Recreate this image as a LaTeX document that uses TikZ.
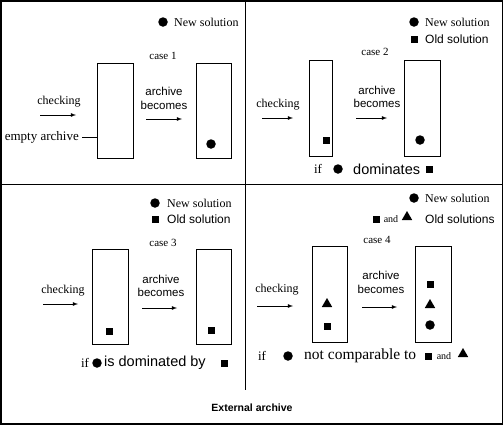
\documentclass[tikz,border=0pt]{standalone}
\usepackage{fontspec}
\setmainfont{Liberation Serif}
\setsansfont{Liberation Sans}
\usetikzlibrary{shapes.geometric,arrows,positioning}

\begin{document}
\begin{tikzpicture}[
            x=1pt, y=-1pt,
            archive/.style={rectangle, draw, line width=0.8pt,
                            minimum width=36pt, minimum height=95pt, inner sep=0},
            dot/.style={circle, fill, inner sep=0, minimum size=9.5pt},
            sq/.style={rectangle, fill, inner sep=0, minimum size=7pt},
            tri/.style={regular polygon, regular polygon sides=3, fill,
                        inner sep=0, minimum size=12pt, yshift=1pt},
            serif/.style={inner sep=0, font=\fontsize{12}{13}\selectfont},
            sans/.style={inner sep=0, font=\sffamily\fontsize{12}{13}\selectfont},
            casetxt/.style={inner sep=0, font=\fontsize{11}{12}\selectfont},
            becomes/.style={inner sep=0, align=center,
                            font=\sffamily\fontsize{11.5}{13.5}\selectfont},
            small/.style={inner sep=0, font=\fontsize{10}{11}\selectfont},
            arrow/.style={-latex, line width=0.8pt}
        ]
            \useasboundingbox (0,0) rectangle (504,426);
            \draw[line width=1.2pt] (1,1) rectangle (502.5,424);
            \draw[line width=0.8pt] (245,1) coordinate (vtop) -- (245,390) coordinate (vbot);
            \draw[line width=0.8pt] (1,184) coordinate (hleft) -- (502.5,184) coordinate (hright);

            % case 1
            \node[dot] (new1) at (163,22) {};
            \node[serif, anchor=west] (newtxt1) at (174,22) {New solution};
            \node[casetxt] (case1) at (163,56) {case 1};
            \node[archive] (a1) at (115,110.5) {};
            \node[archive, minimum width=35pt] (b1) at (213.5,110.5) {};
            \node[serif] (check1) at (59,102) {checking};
            \coordinate (c1s) at (40,115);
            \coordinate (c1e) at (76,115);
            \draw[arrow] (c1s) -- (c1e);
            \node[becomes] (bec1) at (164,98.5) {archive\\becomes};
            \coordinate (b1s) at (146,119);
            \coordinate (b1e) at (182,119);
            \draw[arrow] (b1s) -- (b1e);
            \node[serif, anchor=east, font=\fontsize{13}{14}\selectfont] (empty) at (79,137) {empty archive};
            \draw[line width=0.8pt] ([xshift=3pt]empty.east) -- (a1.west |- empty.east);
            \node[dot] (d1) at (211,144) {};

            % case 2
            \node[dot] (new2) at (414,22) {};
            \node[serif, anchor=west] (newtxt2) at (425,22) {New solution};
            \node[sq] (old2) at (414,39) {};
            \node[sans, anchor=west] (oldtxt2) at (425,39) {Old solution};
            \node[casetxt] (case2) at (375,52) {case 2};
            \node[archive, minimum width=23pt, minimum height=96pt] (a2) at (320.5,108) {};
            \node[archive, minimum height=96pt] (b2) at (422,108) {};
            \node[serif] (check2) at (278,105) {checking};
            \coordinate (c2s) at (262,118);
            \coordinate (c2e) at (293,118);
            \draw[arrow] (c2s) -- (c2e);
            \node[becomes] (bec2) at (377,97) {archive\\becomes};
            \coordinate (b2s) at (356,118);
            \coordinate (b2e) at (387,118);
            \draw[arrow] (b2s) -- (b2e);
            \node[sq] (s2) at (326,140) {};
            \node[dot] (d2) at (420,140) {};
            \node[serif, font=\fontsize{13}{14}\selectfont] (if2) at (318,169) {if};
            \node[dot] (ifd2) at (338,169) {};
            \node[sans, anchor=west, font=\sffamily\fontsize{14.5}{15}\selectfont] (dom2) at (353,169) {dominates};
            \node[sq] (ifs2) at (429,169) {};

            % case 3
            \node[dot] (new3) at (155,203) {};
            \node[serif, anchor=west] (newtxt3) at (167,203) {New solution};
            \node[sq] (old3) at (155,219) {};
            \node[sans, anchor=west] (oldtxt3) at (167,219) {Old solution};
            \node[casetxt] (case3) at (163,243) {case 3};
            \node[archive] (a3) at (110,296.5) {};
            \node[archive, minimum width=35pt] (b3) at (213.5,296.5) {};
            \node[serif] (check3) at (63,291) {checking};
            \coordinate (c3s) at (43,304);
            \coordinate (c3e) at (78,304);
            \draw[arrow] (c3s) -- (c3e);
            \node[becomes] (bec3) at (161,286) {archive\\becomes};
            \coordinate (b3s) at (142,308);
            \coordinate (b3e) at (177,308);
            \draw[arrow] (b3s) -- (b3e);
            \node[sq] (s3a) at (109,331) {};
            \node[sq] (s3b) at (211,330) {};
            \node[serif, font=\fontsize{13}{14}\selectfont] (if3) at (85,363) {if};
            \node[dot] (ifd3) at (97,363) {};
            \node[sans, anchor=west, font=\sffamily\fontsize{14.5}{15}\selectfont] (dom3) at (104,363) {is dominated by};
            \node[sq] (ifs3) at (224,363) {};

            % case 4
            \node[dot] (new4) at (414,198) {};
            \node[serif, anchor=west] (newtxt4) at (425,198) {New solution};
            \node[sq] (old4a) at (376,219) {};
            \node[small] (and4) at (391,219) {and};
            \node[tri] (old4b) at (407,218) {};
            \node[sans, anchor=west] (oldtxt4) at (425,219) {Old solutions};
            \node[casetxt] (case4) at (377,240) {case 4};
            \node[archive, minimum width=35pt, minimum height=96pt] (a4) at (329.5,294) {};
            \node[archive, minimum height=96pt] (b4) at (433,294) {};
            \node[serif] (check4) at (277,290) {checking};
            \coordinate (c4s) at (257,306);
            \coordinate (c4e) at (293,306);
            \draw[arrow] (c4s) -- (c4e);
            \node[becomes] (bec4) at (381,282.5) {archive\\becomes};
            \coordinate (b4s) at (362,307);
            \coordinate (b4e) at (397,307);
            \draw[arrow] (b4s) -- (b4e);
            \node[tri] (t4a) at (327,305) {};
            \node[sq] (s4a) at (327,326) {};
            \node[sq] (s4b) at (430,284) {};
            \node[tri] (t4b) at (430,306) {};
            \node[dot] (d4) at (430,325) {};
            \node[serif, font=\fontsize{13}{14}\selectfont] (if4) at (262,356) {if};
            \node[dot] (ifd4) at (288,356) {};
            \node[serif, anchor=west, font=\fontsize{15.5}{16}\selectfont] (comp4) at (304,356) {not comparable to};
            \node[sq] (ifs4) at (428,356) {};
            \node[small] (ifand4) at (444,356) {and};
            \node[tri] (ift4) at (463,355) {};

            \node[inner sep=0, font=\sffamily\bfseries\fontsize{10.5}{12}\selectfont] (title) at (252,408) {External archive};
        \end{tikzpicture}
\end{document}
